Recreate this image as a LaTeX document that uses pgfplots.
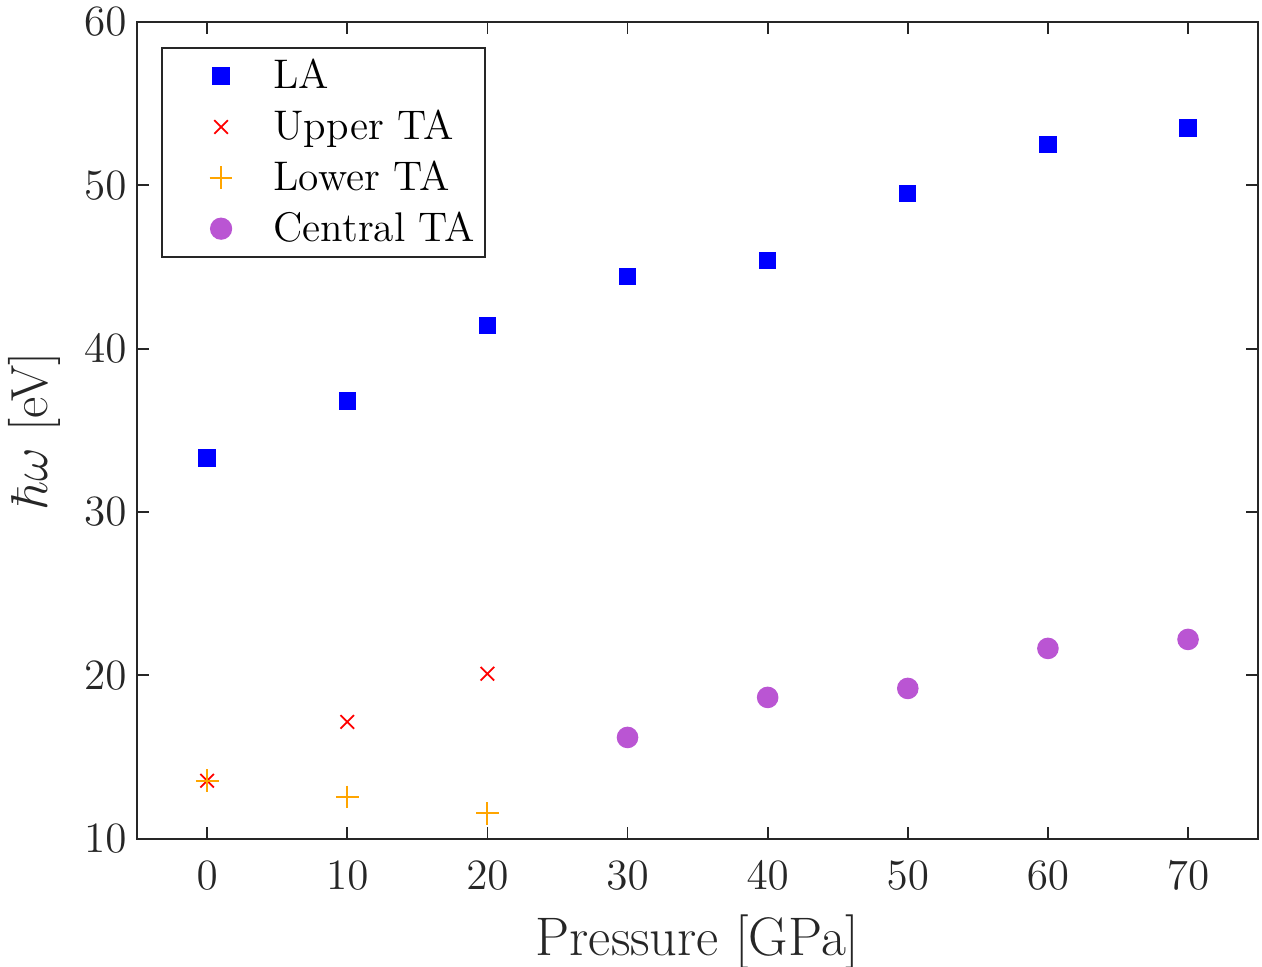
\documentclass[border=0pt]{standalone}
\usepackage{pgfplots}
\pgfplotsset{compat=1.18}
\definecolor{laBlue}{rgb}{0,0,1}
\definecolor{upRed}{rgb}{1,0,0}
\definecolor{loOrange}{rgb}{1,0.647,0}
\definecolor{cePurple}{rgb}{0.729,0.333,0.827}
\definecolor{axgray}{rgb}{0.15,0.15,0.15}
\begin{document}
\begin{tikzpicture}
\begin{axis}[
  name=ax,
  scale only axis,
  width=373.7pt, height=272.3pt,
  xmin=-5, xmax=75, ymin=10, ymax=60,
  xtick={0,10,...,70}, ytick={10,20,...,60},
  tick align=inside,
  major tick length=4pt,
  axis line style={axgray, line width=0.6pt},
  every tick/.style={axgray, line width=0.6pt},
  tick label style={font=\fontsize{15.4}{18}\selectfont, text=axgray},
  xticklabel style={yshift=-4pt},
  xlabel style={font=\fontsize{18.1}{21}\selectfont, text=axgray, yshift=-1.8pt},
  ylabel style={font=\fontsize{17.4}{20}\selectfont, text=axgray, yshift=1pt},
  xlabel={Pressure [GPa]},
  ylabel={$\hbar\omega$ [eV]},
  legend style={at={(rel axis cs:0,1)}, xshift=8pt, yshift=-8.3pt, anchor=north west,
    draw=axgray, line width=0.6pt, font=\fontsize{13.8}{16}\selectfont,
    inner xsep=1.2pt, inner ysep=1.8pt, row sep=1.6pt},
  legend cell align=left,
  legend image code/.code={\path[draw=none,fill=none] (0pt,-3pt) rectangle (34pt,3pt); \draw[#1] plot coordinates {(18.5pt,0pt)};},
]
\addplot[only marks, mark=square*, mark size=2.7pt, draw=laBlue, fill=laBlue] coordinates {
 (0,33.3) (10,36.8) (20,41.4) (30,44.4) (40,45.4) (50,49.5) (60,52.5) (70,53.5)};
\addlegendentry{LA}
\addplot[only marks, mark=x, mark size=3.2pt, draw=upRed, line width=0.6pt] coordinates {
 (0,13.55) (10,17.15) (20,20.1)};
\addlegendentry{Upper TA}
\addplot[only marks, mark=+, mark size=3.8pt, draw=loOrange, line width=0.65pt] coordinates {
 (0,13.55) (10,12.55) (20,11.55)};
\addlegendentry{Lower TA}
\addplot[only marks, mark=*, mark size=3.4pt, draw=cePurple, fill=cePurple] coordinates {
 (30,16.2) (40,18.65) (50,19.2) (60,21.65) (70,22.2)};
\addlegendentry{Central TA}
\end{axis}
\pgfresetboundingbox
\path[use as bounding box] ([xshift=-45.7pt,yshift=-42.7pt]ax.south west) rectangle ([xshift=1.3pt,yshift=7.3pt]ax.north east);
\end{tikzpicture}
\end{document}
